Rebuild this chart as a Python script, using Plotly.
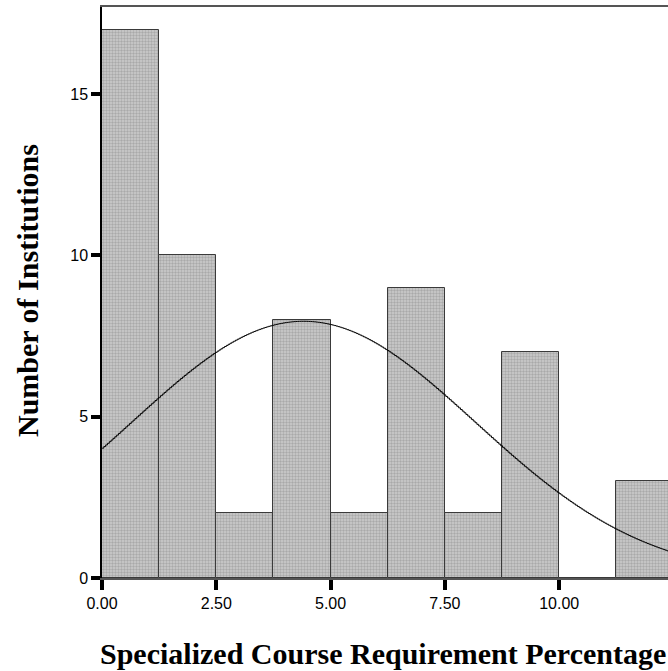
import numpy as np
import plotly.graph_objects as go

# Histogram data
bin_edges = [0.0, 1.25, 2.5, 3.75, 5.0, 6.25, 7.5, 8.75, 10.0, 11.25, 12.5]
counts = [17, 10, 2, 8, 2, 9, 2, 7, 0, 3]
x_ticks = [0.0, 2.5, 5.0, 7.5, 10.0]
x_tick_labels = ["0.00", "2.50", "5.00", "7.50", "10.00"]
y_ticks = [0, 5, 10, 15]
y_tick_labels = ["0", "5", "10", "15"]

# Fitted normal curve parameters
curve_mean = 4.39
curve_sd = 3.76

centers = [(a + b) / 2 for a, b in zip(bin_edges[:-1], bin_edges[1:])]
widths = [b - a for a, b in zip(bin_edges[:-1], bin_edges[1:])]
n_total = sum(counts)
bw = widths[0]

xs = np.arange(0.0, 12.5, 0.04)
ys = n_total * bw / (curve_sd * np.sqrt(2 * np.pi)) * np.exp(-0.5 * ((xs - curve_mean) / curve_sd) ** 2)

fig = go.Figure()
fig.add_trace(go.Bar(
    x=centers, y=counts, width=widths,
    marker=dict(
        color="#c8c8c8",
        line=dict(color="#3a3a3a", width=1),
        pattern=dict(shape=".", fgcolor="#858585", bgcolor="#cdcdcd", size=3, solidity=0.5),
    ),
    hoverinfo="skip",
))
fig.add_trace(go.Scatter(
    x=xs, y=ys, mode="lines", line=dict(color="black", width=1, shape="hv"),
    hoverinfo="skip",
))

TITLE_FONT = dict(family="Times New Roman, Liberation Serif, serif", size=30, color="black")

fig.update_layout(
    width=668, height=671,
    margin=dict(l=102, r=0, t=7, b=93),
    paper_bgcolor="white", plot_bgcolor="white",
    showlegend=False, bargap=0,
    xaxis=dict(
        range=[0, 12.38], tickvals=x_ticks, ticktext=x_tick_labels,
        showgrid=False, zeroline=False,
        showline=True, linecolor="#555555", linewidth=1.5, mirror=True,
        ticks="outside", ticklen=10, tickwidth=4, tickcolor="black",
        tickfont=dict(family="Liberation Sans, Arial, sans-serif", size=16, color="black"),
    ),
    yaxis=dict(
        range=[0, 17.7], tickvals=y_ticks, ticktext=y_tick_labels,
        showgrid=False, zeroline=False,
        showline=True, linecolor="black", linewidth=1.5,
        ticks="outside", ticklen=9, tickwidth=4, tickcolor="black",
        tickfont=dict(family="Liberation Sans, Arial, sans-serif", size=16, color="black"),
    ),
    annotations=[
        dict(text="<b>Specialized Course Requirement Percentage</b>", xref="paper", yref="paper",
             x=(383 - 102) / 566, y=-(653 - 578) / 571, xanchor="center", yanchor="middle",
             showarrow=False, font=TITLE_FONT),
        dict(text="<b>Number of Institutions</b>", xref="paper", yref="paper",
             x=-(102 - 27) / 566, y=(578 - 291) / 571, xanchor="center", yanchor="middle",
             textangle=-90, showarrow=False, font=TITLE_FONT),
    ],
)

fig.write_html("out.html", config={"displayModeBar": False},
               post_script="document.body.style.margin='0';")
